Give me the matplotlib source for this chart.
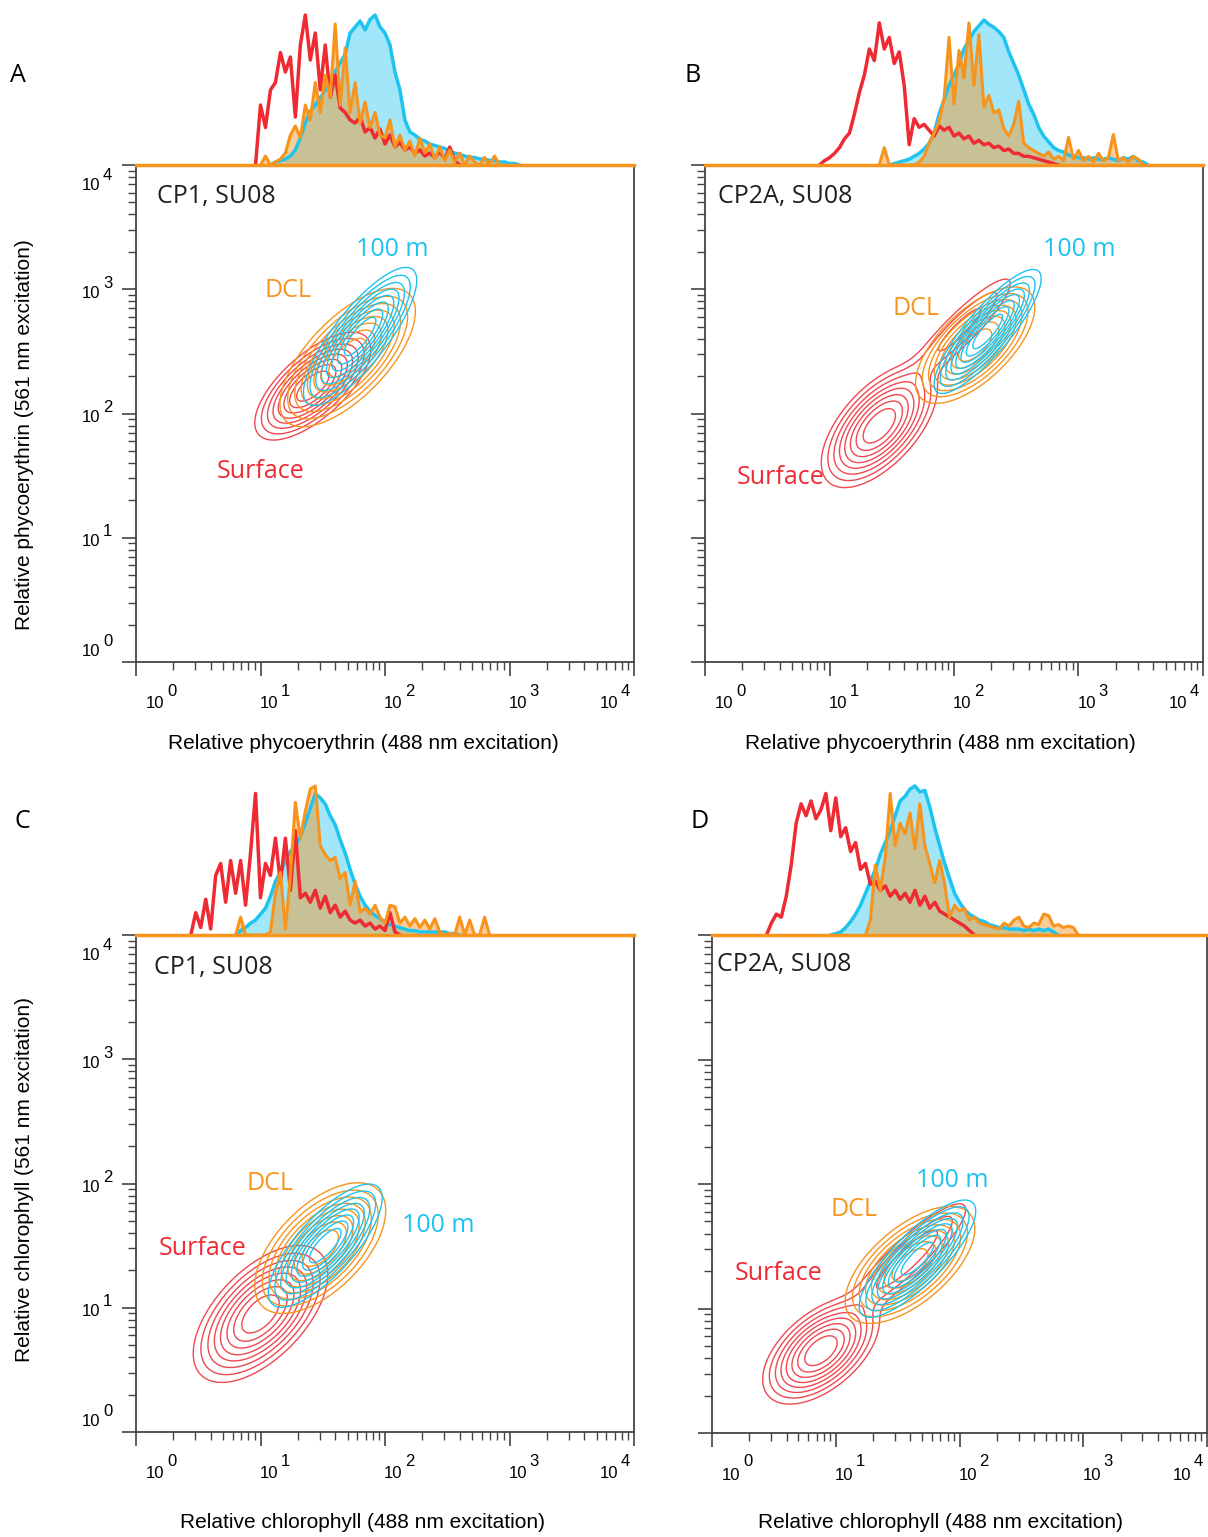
import numpy as np
import matplotlib
matplotlib.use("Agg")
import matplotlib.pyplot as plt
from matplotlib.ticker import FixedLocator, LogLocator, NullFormatter

# histogram heights, percent of the tallest peak, one value per 0.04-decade channel
STEP = 0.04

a_surface_start = 0.96
a_surface_hist = [0, 40, 25, 50, 55, 75, 62, 72, 32, 80, 100, 70, 88, 50, 80, 45, 60, 38, 35, 30,
                  28, 32, 22, 25, 18, 24, 14, 20, 12, 15, 10, 12, 8, 10, 6, 8, 5, 9, 4, 12, 3, 0]
a_deep_start = 1.08
a_deep_hist = [0, 2, 3, 4, 6, 10, 18, 28, 36, 40, 45, 50, 56, 62, 68, 74, 88, 92, 96, 90,
               97, 100, 92, 88, 80, 62, 50, 30, 22, 20, 17, 16, 14, 13, 12, 11, 9, 8, 7, 6,
               5, 5, 4, 4, 3, 3, 2, 2, 1, 1, 0]
a_dcl_start = 1.00
a_dcl_hist = [0, 6, 0, 2, 4, 8, 20, 26, 18, 40, 30, 55, 35, 60, 45, 94, 40, 78, 35, 55,
              28, 42, 25, 35, 20, 18, 30, 12, 20, 10, 16, 6, 18, 8, 14, 4, 12, 3, 10, 2,
              8, 0, 6, 2, 0, 5, 0, 6, 0]

b_surface_start = 0.92
b_surface_hist = [0, 3, 5, 8, 12, 18, 22, 35, 50, 62, 80, 72, 98, 80, 88, 70, 78, 55, 14, 32,
                  26, 28, 24, 20, 27, 24, 26, 20, 22, 18, 20, 15, 17, 14, 15, 12, 13, 10, 11, 8,
                  8, 6, 6, 5, 4, 3, 2, 1, 0]
b_deep_start = 1.48
b_deep_hist = [0, 1, 2, 3, 4, 6, 8, 11, 15, 22, 35, 45, 55, 62, 70, 80, 86, 92, 96, 100,
               97, 95, 92, 88, 78, 70, 62, 52, 42, 35, 26, 20, 16, 12, 10, 9, 7, 6, 5, 5,
               4, 5, 4, 4, 5, 4, 3, 5, 4, 6, 3, 2, 0]
b_dcl_start = 1.40
b_dcl_hist = [0, 12, 0, 0, 0, 0, 0, 0, 2, 6, 15, 22, 30, 45, 88, 42, 79, 60, 98, 55,
              90, 40, 48, 36, 38, 25, 20, 28, 44, 15, 12, 10, 8, 6, 9, 4, 6, 3, 19, 4,
              10, 3, 6, 2, 8, 3, 5, 21, 3, 5, 2, 6, 4, 0]

c_surface_start = 0.44
c_surface_hist = [0, 15, 5, 24, 4, 40, 48, 22, 50, 28, 50, 20, 55, 95, 25, 48, 40, 65, 35, 65,
                  30, 70, 25, 28, 22, 30, 18, 26, 15, 20, 12, 16, 10, 8, 10, 6, 8, 4, 6, 3,
                  15, 2, 0]
c_deep_start = 0.80
c_deep_hist = [0, 3, 5, 8, 10, 14, 18, 26, 36, 42, 50, 56, 60, 66, 75, 85, 95, 92, 88, 80,
               74, 64, 55, 44, 34, 26, 20, 16, 13, 11, 9, 7, 6, 5, 4, 3, 3, 2, 2, 2,
               2, 2, 2, 1, 1, 0]
c_dcl_start = 0.80
c_dcl_hist = [0, 12, 0, 0, 0, 0, 0, 2, 28, 42, 4, 40, 89, 65, 83, 98, 100, 60, 54, 50,
              52, 38, 42, 20, 36, 15, 18, 14, 20, 12, 8, 20, 19, 8, 12, 6, 11, 5, 10, 4,
              11, 2, 0, 1, 0, 12, 0, 10, 0, 0, 12, 0]

d_surface_start = 0.44
d_surface_hist = [0, 8, 14, 12, 26, 47, 75, 88, 80, 90, 78, 84, 95, 70, 92, 66, 72, 56, 62, 44,
                  48, 34, 36, 30, 33, 26, 30, 24, 28, 22, 30, 20, 26, 18, 22, 16, 14, 12, 10, 8,
                  6, 3, 0]
d_deep_start = 0.96
d_deep_hist = [0, 1, 2, 5, 9, 14, 20, 28, 36, 44, 54, 62, 70, 80, 90, 93, 98, 100, 96, 97,
               86, 72, 60, 48, 38, 28, 22, 17, 14, 12, 10, 9, 7, 6, 5, 5, 4, 4, 4, 3,
               4, 3, 4, 3, 4, 2, 0]
d_dcl_start = 1.24
d_dcl_hist = [0, 10, 47, 30, 52, 95, 60, 75, 68, 82, 58, 88, 60, 48, 35, 50, 34, 12, 20, 16,
              18, 10, 12, 8, 7, 6, 5, 4, 8, 6, 10, 12, 6, 5, 8, 7, 14, 13, 6, 7,
              5, 6, 5, 0]

# populations: log10 centre x, log10 centre y, sd along major axis, sd across, angle (deg), weight
a_surface_pop = [[1.42, 2.22, 0.23, 0.10, 42, 1.0]]
a_dcl_pop = [[1.70, 2.45, 0.28, 0.125, 46, 1.0]]
a_deep_pop = [[1.80, 2.62, 0.27, 0.085, 52, 1.0]]

b_surface_pop = [[1.40, 1.90, 0.24, 0.12, 48, 1.0], [2.05, 2.68, 0.32, 0.07, 45, 0.18]]
b_dcl_pop = [[2.17, 2.55, 0.24, 0.11, 44, 1.0]]
b_deep_pop = [[2.27, 2.66, 0.25, 0.07, 50, 1.0]]

c_surface_pop = [[1.00, 0.95, 0.27, 0.14, 46, 1.0]]
c_dcl_pop = [[1.48, 1.48, 0.26, 0.135, 45, 1.0]]
c_deep_pop = [[1.52, 1.50, 0.25, 0.09, 48, 1.0]]

d_surface_pop = [[0.88, 0.66, 0.22, 0.12, 40, 1.0], [1.58, 1.40, 0.34, 0.08, 43, 0.22]]
d_dcl_pop = [[1.60, 1.35, 0.25, 0.12, 40, 1.0]]
d_deep_pop = [[1.66, 1.40, 0.25, 0.08, 45, 1.0]]

contour_levels = [0.04, 0.08, 0.14, 0.22, 0.32, 0.45, 0.60, 0.78]

RED = "#ee2a33"
RED_CONTOUR = "#f04850"
ORANGE = "#f7941d"
CYAN = "#1ec3ef"
CYAN_FILL = "#a2e6f9"
AXIS = "#444444"

plt.rcParams["font.family"] = ["Liberation Sans", "DejaVu Sans"]
LABEL_FONT = ["Open Sans", "DejaVu Sans"]

W, H = 1208, 1537
fig = plt.figure(figsize=(W / 100, H / 100), dpi=100)


def rect(l, r, t, b):
    return [l / W, 1 - b / H, (r - l) / W, (b - t) / H]


grid = np.linspace(-0.2, 4.2, 500)
LX, LY = np.meshgrid(grid, grid)


def density(pops):
    z = np.zeros_like(LX)
    for cx, cy, sa, sb, ang, w in pops:
        t = np.deg2rad(ang)
        dx, dy = LX - cx, LY - cy
        u = dx * np.cos(t) + dy * np.sin(t)
        v = -dx * np.sin(t) + dy * np.cos(t)
        z += w * np.exp(-0.5 * ((u / sa) ** 2 + (v / sb) ** 2))
    return z / z.max()


def channels(start, vals):
    return 10 ** (start + STEP * np.arange(len(vals))), np.array(vals, float)


def power_label(ax, k, base_off, sup_off, ha, trans, xy):
    # "10" with a full-size exponent, as in the original cytometer plots
    ax.annotate("10", xy=xy, xycoords=trans, xytext=base_off, textcoords="offset pixels",
                fontsize=12, ha=ha, va="center", annotation_clip=False)
    ax.annotate(str(k), xy=xy, xycoords=trans, xytext=sup_off, textcoords="offset pixels",
                fontsize=12, ha="left", va="center", annotation_clip=False)


def draw_panel(box, hist_top, hists, pops, ylabels):
    ax = fig.add_axes(rect(*box))
    ax.set_xscale("log")
    ax.set_yscale("log")
    ax.set_xlim(1, 1e4)
    ax.set_ylim(1, 1e4)
    for s in ax.spines.values():
        s.set_color(AXIS)
        s.set_linewidth(1.3)

    decades = [1, 10, 100, 1000, 10000]
    for axis in (ax.xaxis, ax.yaxis):
        axis.set_major_locator(FixedLocator(decades))
        axis.set_minor_locator(LogLocator(10, subs=np.arange(2, 10)))
        axis.set_minor_formatter(NullFormatter())
    ax.tick_params(which="major", direction="out", length=10, width=1.2, color=AXIS,
                   labelbottom=False, labelleft=False)
    ax.tick_params(which="minor", direction="out", length=5.5, width=1.0, color=AXIS)

    xshift = [10, -1, -1, -1, -34]
    for k, d in enumerate(decades):
        power_label(ax, k, (xshift[k], -42), (xshift[k] + 21, -29), "left",
                    ax.get_xaxis_transform(), (d, 0))
    if ylabels:
        yshift = [10, -4, -4, -4, -20]
        for k, d in enumerate(decades):
            power_label(ax, k, (-36, yshift[k]), (-33, yshift[k] + 10), "right",
                        ax.get_yaxis_transform(), (0, d))

    for pop, col in zip(pops, (RED_CONTOUR, ORANGE, CYAN)):
        ax.contour(10 ** LX, 10 ** LY, density(pop), levels=contour_levels,
                   colors=col, linewidths=1.0)

    hax = fig.add_axes(rect(box[0], box[1], hist_top, box[2]))
    hax.set_xscale("log")
    hax.set_xlim(1, 1e4)
    hax.set_ylim(0, 100)
    hax.axis("off")
    (xs, vs), (xo, vo), (xc, vc) = [channels(*h) for h in hists]
    hax.fill_between(xc, vc, 0, color=CYAN_FILL, lw=0)
    hax.plot(xc, vc, color=CYAN, lw=2.5, clip_on=False)
    hax.plot(xs, vs, color=RED, lw=2.5, clip_on=False)
    hax.fill_between(xo, vo, 0, color=ORANGE, alpha=0.45, lw=0)
    hax.plot(xo, vo, color=ORANGE, lw=2.2, clip_on=False)
    hax.axhline(0, color=ORANGE, lw=2.5, clip_on=False)
    return ax


panels = [
    ("A", (136, 634, 165, 662), 15,
     [(a_surface_start, a_surface_hist), (a_dcl_start, a_dcl_hist), (a_deep_start, a_deep_hist)],
     [a_surface_pop, a_dcl_pop, a_deep_pop], True, "CP1, SU08", (0.042, 0.936),
     [(0.251, 0.384), (0.305, 0.748), (0.514, 0.829)], (18, 75)),
    ("B", (705, 1203, 165, 662), 20,
     [(b_surface_start, b_surface_hist), (b_dcl_start, b_dcl_hist), (b_deep_start, b_deep_hist)],
     [b_surface_pop, b_dcl_pop, b_deep_pop], False, "CP2A, SU08", (0.026, 0.936),
     [(0.151, 0.372), (0.424, 0.712), (0.751, 0.829)], (693, 75)),
    ("C", (136, 634, 935, 1432), 786,
     [(c_surface_start, c_surface_hist), (c_dcl_start, c_dcl_hist), (c_deep_start, c_deep_hist)],
     [c_surface_pop, c_dcl_pop, c_deep_pop], True, "CP1, SU08", (0.036, 0.934),
     [(0.133, 0.370), (0.269, 0.499), (0.606, 0.416)], (22, 822)),
    ("D", (712, 1207, 935, 1433), 786,
     [(d_surface_start, d_surface_hist), (d_dcl_start, d_dcl_hist), (d_deep_start, d_deep_hist)],
     [d_surface_pop, d_dcl_pop, d_deep_pop], False, "CP2A, SU08", (0.010, 0.940),
     [(0.135, 0.321), (0.287, 0.448), (0.485, 0.508)], (700, 822)),
]
pop_names = ["Surface", "DCL", "100 m"]
pop_colors = [RED, ORANGE, CYAN]

for letter, box, htop, hists, pops, ylab, title, title_xy, name_xy, letter_xy in panels:
    ax = draw_panel(box, htop, hists, pops, ylab)
    ax.text(*title_xy, title, transform=ax.transAxes, fontsize=18, family=LABEL_FONT,
            color="#231f20", ha="left", va="center")
    for name, col, (tx, ty) in zip(pop_names, pop_colors, name_xy):
        ax.text(tx, ty, name, transform=ax.transAxes, fontsize=18, family=LABEL_FONT,
                color=col, ha="center", va="center")
    fig.text(letter_xy[0] / W, 1 - letter_xy[1] / H, letter, fontsize=18,
             family=LABEL_FONT, ha="center", va="center")

xlabels = [("Relative phycoerythrin (488 nm excitation)", 363, 743),
           ("Relative phycoerythrin (488 nm excitation)", 940, 743),
           ("Relative chlorophyll (488 nm excitation)", 363, 1523),
           ("Relative chlorophyll (488 nm excitation)", 940, 1523)]
for txt, x, y in xlabels:
    fig.text(x / W, 1 - y / H, txt, fontsize=15, ha="center", va="center")

ylabels = [("Relative phycoerythrin (561 nm excitation)", 25, 435),
           ("Relative chlorophyll (561 nm excitation)", 25, 1179)]
for txt, x, y in ylabels:
    fig.text(x / W, 1 - y / H, txt, fontsize=15, ha="center", va="center", rotation=90)

fig.savefig("out.png", dpi=100)
